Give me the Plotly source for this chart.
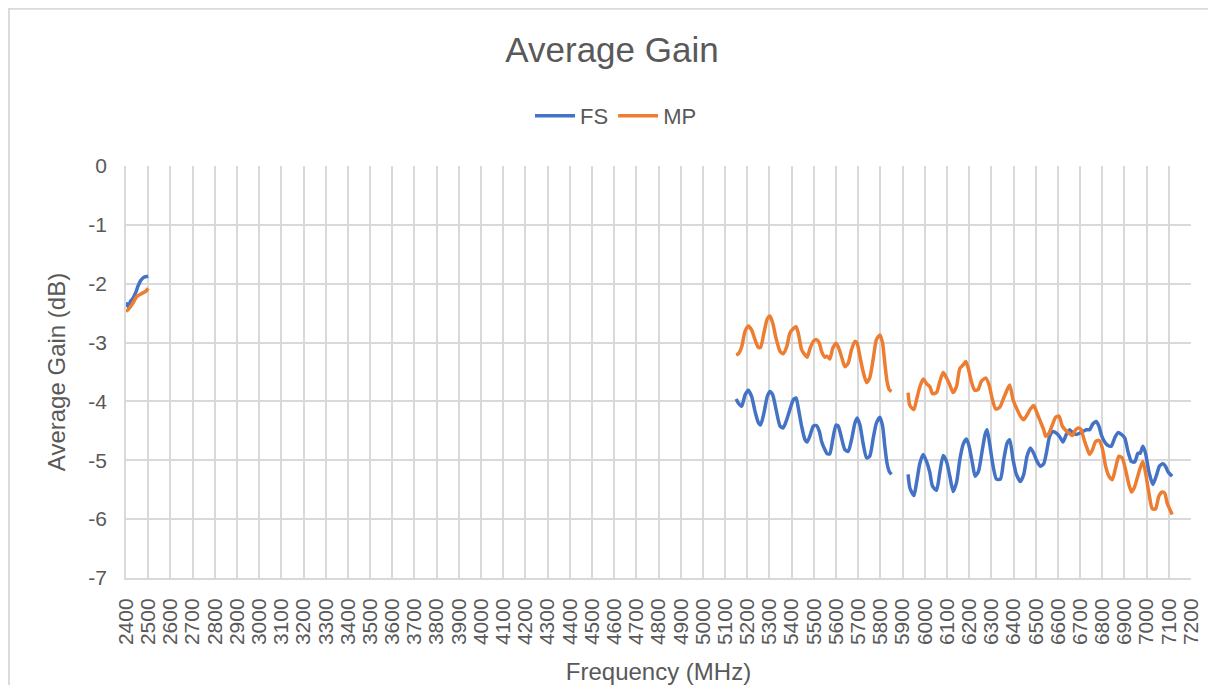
import plotly.graph_objects as go

# ---------------- data ----------------
# Segment 1: 2.4 GHz band
fs1_freq = [2400, 2410, 2420, 2431, 2446, 2453, 2467, 2481, 2491, 2500]
fs1_gain = [-2.32, -2.39, -2.30, -2.25, -2.13, -2.05, -1.94, -1.89, -1.88, -1.87]
mp1_freq = [2400, 2410, 2420, 2431, 2446, 2460, 2474, 2489, 2500]
mp1_gain = [-2.47, -2.44, -2.39, -2.33, -2.23, -2.19, -2.16, -2.13, -2.08]

# Segment 2: 5 GHz band
band2_freq = [5150, 5160, 5175, 5190, 5205, 5220, 5235, 5250, 5260, 5275,
              5290, 5302, 5315, 5330, 5348, 5362, 5378, 5392, 5408, 5420,
              5430, 5445, 5460, 5470, 5482, 5498, 5512, 5525, 5535, 5550,
              5560, 5572, 5585, 5600, 5610, 5625, 5640, 5655, 5670, 5685,
              5695, 5708, 5722, 5738, 5752, 5768, 5782, 5798, 5810, 5820,
              5830, 5840, 5850]
fs2_gain = [-3.96, -4.03, -4.08, -3.89, -3.81, -3.92, -4.17, -4.36, -4.40, -4.20,
            -3.92, -3.83, -3.89, -4.14, -4.42, -4.45, -4.31, -4.14, -3.97, -3.94,
            -4.11, -4.42, -4.65, -4.69, -4.59, -4.42, -4.41, -4.51, -4.68, -4.82,
            -4.89, -4.89, -4.65, -4.40, -4.42, -4.62, -4.82, -4.85, -4.65, -4.37,
            -4.28, -4.40, -4.71, -4.96, -4.93, -4.62, -4.37, -4.27, -4.42, -4.76,
            -5.05, -5.19, -5.24]
mp2_gain = [-3.21, -3.19, -3.07, -2.81, -2.72, -2.79, -2.95, -3.08, -3.08, -2.84,
            -2.60, -2.55, -2.67, -2.93, -3.15, -3.19, -3.07, -2.84, -2.76, -2.73,
            -2.84, -3.12, -3.21, -3.25, -3.11, -2.98, -2.95, -3.01, -3.15, -3.25,
            -3.23, -3.28, -3.10, -3.01, -3.07, -3.24, -3.41, -3.35, -3.12, -2.98,
            -3.01, -3.24, -3.49, -3.68, -3.60, -3.27, -2.95, -2.87, -3.01, -3.35,
            -3.66, -3.80, -3.83]

# Segment 3: 6 GHz band
fs3_freq = [5925, 5933, 5951, 5963, 5978, 5993, 6008, 6023, 6035, 6053,
            6068, 6083, 6098, 6113, 6128, 6143, 6158, 6173, 6188, 6200,
            6215, 6227, 6242, 6257, 6272, 6281, 6293, 6308, 6323, 6341,
            6356, 6371, 6383, 6398, 6413, 6431, 6446, 6461, 6476, 6491,
            6506, 6521, 6536, 6548, 6563, 6578, 6593, 6608, 6623, 6638,
            6653, 6668, 6683, 6698, 6713, 6728, 6743, 6758, 6773, 6785,
            6797, 6811, 6826, 6841, 6856, 6871, 6886, 6901, 6916, 6931,
            6946, 6961, 6971, 6983, 6995, 7010, 7028, 7043, 7058, 7073,
            7085, 7097, 7115]
fs3_gain = [-5.24, -5.47, -5.60, -5.38, -5.05, -4.90, -5.02, -5.21, -5.44, -5.51,
            -5.20, -4.92, -5.02, -5.27, -5.53, -5.38, -4.99, -4.73, -4.64, -4.76,
            -5.05, -5.27, -5.19, -4.88, -4.56, -4.48, -4.73, -5.10, -5.32, -5.32,
            -4.99, -4.71, -4.65, -4.99, -5.24, -5.36, -5.24, -4.93, -4.79, -4.88,
            -5.02, -5.10, -5.06, -4.88, -4.59, -4.51, -4.54, -4.60, -4.69, -4.56,
            -4.48, -4.54, -4.56, -4.54, -4.51, -4.48, -4.48, -4.38, -4.34, -4.42,
            -4.58, -4.69, -4.75, -4.76, -4.62, -4.53, -4.56, -4.62, -4.85, -5.02,
            -5.03, -4.88, -4.88, -4.76, -4.88, -5.19, -5.41, -5.27, -5.10, -5.06,
            -5.10, -5.20, -5.27]
mp3_freq = [5925, 5933, 5951, 5963, 5978, 5993, 6008, 6023, 6035, 6053,
            6068, 6083, 6098, 6113, 6128, 6143, 6158, 6173, 6185, 6197,
            6210, 6225, 6240, 6255, 6275, 6290, 6305, 6320, 6338, 6353,
            6368, 6383, 6398, 6413, 6431, 6446, 6461, 6476, 6491, 6506,
            6521, 6536, 6545, 6560, 6575, 6590, 6605, 6620, 6635, 6650,
            6665, 6680, 6695, 6705, 6716, 6731, 6743, 6755, 6770, 6785,
            6800, 6815, 6830, 6845, 6860, 6875, 6890, 6905, 6920, 6932,
            6945, 6960, 6971, 6983, 6995, 7010, 7025, 7040, 7055, 7070,
            7082, 7092, 7103, 7115]
mp3_gain = [-3.85, -4.07, -4.14, -3.97, -3.75, -3.62, -3.70, -3.75, -3.87, -3.85,
            -3.66, -3.51, -3.60, -3.72, -3.85, -3.75, -3.44, -3.38, -3.32, -3.45,
            -3.66, -3.81, -3.80, -3.66, -3.60, -3.72, -3.97, -4.13, -4.10, -3.97,
            -3.83, -3.72, -3.97, -4.11, -4.25, -4.31, -4.23, -4.13, -4.07, -4.20,
            -4.34, -4.48, -4.59, -4.54, -4.40, -4.27, -4.25, -4.42, -4.49, -4.54,
            -4.58, -4.48, -4.45, -4.48, -4.62, -4.79, -4.90, -4.83, -4.68, -4.66,
            -4.79, -5.10, -5.27, -5.33, -5.13, -4.93, -4.96, -5.16, -5.41, -5.54,
            -5.46, -5.27, -5.13, -5.02, -5.21, -5.55, -5.82, -5.83, -5.61, -5.54,
            -5.56, -5.72, -5.82, -5.92]

x_ticks = list(range(2400, 7201, 100))
y_ticks = [0, -1, -2, -3, -4, -5, -6, -7]
y_tick_text = ["0", "-1", "-2", "-3", "-4", "-5", "-6", "-7"]

# ---------------- figure ----------------
BLUE = "#4472C4"
ORANGE = "#ED7D31"
TXT = "#595959"
GRID = "#D9D9D9"
FONT = "Liberation Sans"

W, H = 1200, 677          # page body has an 8px margin
OFF = 8
PL, PR, PT, PB = 126 - OFF, 1191 - OFF, 166 - OFF, 578 - OFF   # plot box in figure px


def join(*segs):
    xs, ys = [], []
    for f, g in segs:
        if xs:
            xs.append(None)
            ys.append(None)
        xs.extend(f)
        ys.extend(g)
    return xs, ys


fs_x, fs_y = join((fs1_freq, fs1_gain), (band2_freq, fs2_gain), (fs3_freq, fs3_gain))
mp_x, mp_y = join((mp1_freq, mp1_gain), (band2_freq, mp2_gain), (mp3_freq, mp3_gain))

fig = go.Figure()
fig.add_trace(go.Scatter(x=fs_x, y=fs_y, name="FS", mode="lines",
                         line=dict(color=BLUE, width=3.5, shape="spline", smoothing=0.6),
                         connectgaps=False))
fig.add_trace(go.Scatter(x=mp_x, y=mp_y, name="MP", mode="lines",
                         line=dict(color=ORANGE, width=3.5, shape="spline", smoothing=0.6),
                         connectgaps=False))

ph = PB - PT
pw = PR - PL

fig.update_layout(
    width=W, height=H,
    margin=dict(l=PL, r=W - PR, t=PT, b=H - PB, autoexpand=False),
    paper_bgcolor="white", plot_bgcolor="white",
    font=dict(family=FONT, color=TXT),
    title=dict(text="Average Gain", x=(612 - OFF) / W, xanchor="center",
               y=1 - (50 - OFF) / H, yref="container", yanchor="middle",
               font=dict(size=35, color=TXT, family=FONT)),
    legend=dict(orientation="h", x=(616 - OFF - PL) / pw, xanchor="center",
                y=(PB - (116 - OFF)) / ph, yanchor="middle",
                font=dict(size=22, color=TXT, family=FONT), itemwidth=40,
                bgcolor="rgba(0,0,0,0)"),
    xaxis=dict(range=[2400, 7200], tickmode="array", tickvals=x_ticks,
               ticktext=[str(v) for v in x_ticks], tickangle=-90,
               showgrid=True, gridcolor=GRID, gridwidth=1.5,
               showline=True, linecolor=GRID, linewidth=2,
               zeroline=False, ticks="", ticklabelstandoff=10,
               tickfont=dict(size=21, color=TXT, family=FONT),
               title=dict(text="Frequency (MHz)", standoff=20,
                          font=dict(size=24, color=TXT, family=FONT))),
    yaxis=dict(range=[-7, 0], tickmode="array", tickvals=y_ticks, ticktext=y_tick_text,
               showgrid=True, gridcolor=GRID, gridwidth=1.5,
               showline=True, linecolor=GRID, linewidth=1.5,
               zeroline=False, ticks="", ticklabelstandoff=13,
               tickfont=dict(size=21, color=TXT, family=FONT),
               title=dict(text="Average Gain (dB)", standoff=16,
                          font=dict(size=24, color=TXT, family=FONT))),
    showlegend=True,
)

# Chart-area border (Excel style) along the top and left edges
fig.add_shape(type="rect", xref="paper", yref="paper",
              x0=-PL / pw + 0.0008, x1=1.2, y0=-0.5, y1=PB / ph - 0.002,
              line=dict(color=GRID, width=2), fillcolor="rgba(0,0,0,0)", layer="below")

fig.write_html("out.html")
